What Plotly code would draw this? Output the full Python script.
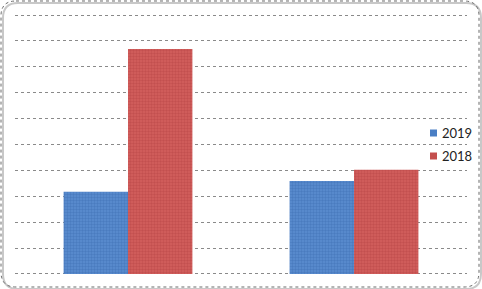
import plotly.graph_objects as go

categories = ["A", "B"]
series_2019 = [3.17, 3.59]
series_2018 = [8.69, 4.02]
series_names = ["2019", "2018"]
series_colors = ["#4A7EC4", "#C44F4E"]

W, H = 482, 289
ml, mr, mt, mb = 15, 15, 13, 13
pw, ph = W - ml - mr, H - mt - mb

def px_to_paper(x, y):
    return (x - ml) / pw, (H - mb - y) / ph

def rounded_path(x0, y0, x1, y1, r):
    def P(x, y):
        a, b = px_to_paper(x, y)
        return f"{a:.5f},{b:.5f}"
    return (f"M {P(x0 + r, y0)} L {P(x1 - r, y0)} Q {P(x1, y0)} {P(x1, y0 + r)} "
            f"L {P(x1, y1 - r)} Q {P(x1, y1)} {P(x1 - r, y1)} "
            f"L {P(x0 + r, y1)} Q {P(x0, y1)} {P(x0, y1 - r)} "
            f"L {P(x0, y0 + r)} Q {P(x0, y0)} {P(x0 + r, y0)} Z")

fig = go.Figure()
fig.add_trace(go.Bar(
    x=categories, y=series_2019, name=series_names[0],
    marker=dict(color=series_colors[0], line=dict(width=0),
                pattern=dict(shape=".", size=3, solidity=0.5, fgcolor="#3A68AE", bgcolor="#5A8ED0")),
))
fig.add_trace(go.Bar(
    x=categories, y=series_2018, name=series_names[1],
    marker=dict(color=series_colors[1], line=dict(width=0),
                pattern=dict(shape=".", size=3, solidity=0.5, fgcolor="#B04040", bgcolor="#D4605E")),
))

shapes = [
    dict(type="path", xref="paper", yref="paper",
         path=rounded_path(3, 3, 481, 289, 15),
         line=dict(color="#c8c8c8", width=2), fillcolor="rgba(0,0,0,0)", layer="below"),
    dict(type="path", xref="paper", yref="paper",
         path=rounded_path(1, 1, 479, 287, 15),
         line=dict(color="#6a6a6a", width=1, dash="dot"), fillcolor="rgba(0,0,0,0)"),
]
annotations = []
legend_rows_y = [133, 156]
for name, col, yy in zip(series_names, series_colors, legend_rows_y):
    x0, y0 = px_to_paper(430, yy + 3.5)
    x1, y1 = px_to_paper(437, yy - 3.5)
    shapes.append(dict(type="rect", xref="paper", yref="paper", x0=x0, y0=y0, x1=x1, y1=y1,
                       fillcolor=col, line=dict(width=0)))
    ax, ay = px_to_paper(440, yy)
    annotations.append(dict(text=name, xref="paper", yref="paper", x=ax, y=ay,
                            xanchor="left", yanchor="middle", showarrow=False,
                            font=dict(size=13, color="#222222")))

fig.update_layout(
    width=W, height=H,
    margin=dict(l=ml, r=mr, t=mt, b=mb, autoexpand=False),
    paper_bgcolor="white", plot_bgcolor="white",
    barmode="group", bargap=0.43, bargroupgap=0,
    font=dict(family="Lato, Carlito, Liberation Sans, sans-serif", size=12, color="#222222"),
    showlegend=False,
    xaxis=dict(showticklabels=False, showgrid=False, zeroline=False, showline=False, ticks=""),
    yaxis=dict(range=[-0.08, 10.08], dtick=1, showticklabels=False, showgrid=True,
               gridcolor="#8a8a8a", griddash="dot", gridwidth=1,
               zeroline=False, showline=False, ticks=""),
    shapes=shapes,
    annotations=annotations,
)

fig.write_html("out.html")
